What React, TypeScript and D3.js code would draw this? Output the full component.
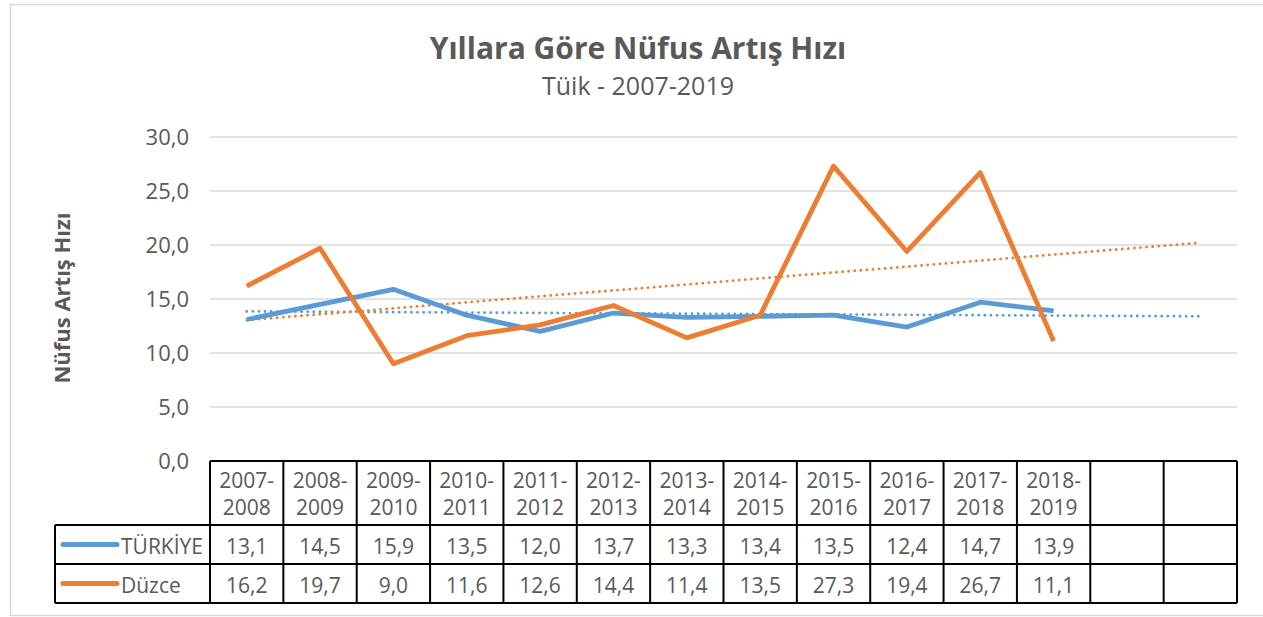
import React from "react";
import { scaleBand, scaleLinear, line, range } from "d3";

const periods = [
  "2007-2008", "2008-2009", "2009-2010", "2010-2011", "2011-2012", "2012-2013",
  "2013-2014", "2014-2015", "2015-2016", "2016-2017", "2017-2018", "2018-2019",
];
const turkiye = [13.1, 14.5, 15.9, 13.5, 12.0, 13.7, 13.3, 13.4, 13.5, 12.4, 14.7, 13.9];
const duzce = [16.2, 19.7, 9.0, 11.6, 12.6, 14.4, 11.4, 13.5, 27.3, 19.4, 26.7, 11.1];
const yTicks = [0, 5, 10, 15, 20, 25, 30];
const forecastSlots = 2;

const series = [
  { name: "TÜRKİYE", values: turkiye, color: "#5B9BD5" },
  { name: "Düzce", values: duzce, color: "#ED7D31" },
];

const W = 1263;
const H = 617;
const left = 210;
const right = 1237;
const top = 137;
const bottom = 461;
const font = "'Open Sans', Lato, sans-serif";
const textColor = "#595959";

// linear trend, Excel style (x = 1..n)
function trend(vals: number[]) {
  const n = vals.length;
  const xs = vals.map((_, i) => i + 1);
  const mx = xs.reduce((a, b) => a + b, 0) / n;
  const my = vals.reduce((a, b) => a + b, 0) / n;
  let sxy = 0;
  let sxx = 0;
  xs.forEach((x, i) => {
    sxy += (x - mx) * (vals[i] - my);
    sxx += (x - mx) * (x - mx);
  });
  const b = sxy / sxx;
  return (x: number) => my + b * (x - mx);
}

export default function App() {
  const slots = range(periods.length + forecastSlots);
  const x = scaleBand<number>().domain(slots).range([left, right]);
  const y = scaleLinear().domain([0, 30]).range([bottom, top]);
  const cx = (i: number) => (x(i) ?? 0) + x.bandwidth() / 2;

  const path = line<number>()
    .x((_, i) => cx(i))
    .y((d) => y(d));

  const headerBottom = 525;
  const rowBottoms = [564, 603];
  const legendLeft = 55;
  const fs = 21;

  return (
    <svg
      width={W}
      height={H}
      style={{ position: "absolute", left: 0, top: 0, background: "#fff" }}
      fontFamily={font}
    >
      <rect x={10.5} y={4.5} width={1270} height={611} fill="#fff" stroke="#D9D9D9" strokeWidth={1.5} />

      <text x={638} y={59} textAnchor="middle" fontSize={30} fontWeight="bold" fill={textColor}>
        Yıllara Göre Nüfus Artış Hızı
      </text>
      <text x={638} y={95} textAnchor="middle" fontSize={25} fill={textColor}>
        Tüik - 2007-2019
      </text>

      <text
        transform={`translate(70,298) rotate(-90)`}
        textAnchor="middle"
        fontSize={22}
        fontWeight="bold"
        fill={textColor}
      >
        Nüfus Artış Hızı
      </text>

      {yTicks.map((t) => (
        <g key={t}>
          {t > 0 && (
            <line x1={left} x2={right} y1={y(t)} y2={y(t)} stroke="#D9D9D9" strokeWidth={1.5} />
          )}
          <text x={189} y={y(t) + 8} textAnchor="end" fontSize={22} fill={textColor}>
            {t.toFixed(1).replace(".", ",")}
          </text>
        </g>
      ))}

      {series.map((s) => {
        const f = trend(s.values);
        return (
          <line
            key={s.name + "-trend"}
            x1={cx(0)}
            x2={cx(slots.length - 1)}
            y1={y(f(1))}
            y2={y(f(slots.length))}
            stroke={s.color}
            strokeWidth={2.8}
            strokeDasharray="0.1 6"
            strokeLinecap="round"
          />
        );
      })}

      {series.map((s) => (
        <path
          key={s.name}
          d={path(s.values) ?? ""}
          fill="none"
          stroke={s.color}
          strokeWidth={4.8}
          strokeLinejoin="round"
        />
      ))}

      <g stroke="#000" strokeWidth={2} fill="none">
        <line x1={left} x2={right} y1={bottom} y2={bottom} />
        <line x1={legendLeft} x2={right} y1={headerBottom} y2={headerBottom} />
        {rowBottoms.map((rb) => (
          <line key={rb} x1={legendLeft} x2={right} y1={rb} y2={rb} />
        ))}
        <line x1={legendLeft} x2={legendLeft} y1={headerBottom} y2={rowBottoms[1]} />
        {slots.map((i) => (
          <line key={i} x1={x(i)} x2={x(i)} y1={bottom} y2={rowBottoms[1]} />
        ))}
        <line x1={right} x2={right} y1={bottom} y2={rowBottoms[1]} />
      </g>

      {periods.map((p, i) => {
        const [a, b] = p.split("-");
        return (
          <g key={p} fontSize={fs} fill={textColor} textAnchor="middle">
            <text x={cx(i)} y={488}>{a + "-"}</text>
            <text x={cx(i)} y={515}>{b}</text>
          </g>
        );
      })}

      {series.map((s, r) => {
        const rowTop = r === 0 ? headerBottom : rowBottoms[0];
        const mid = (rowTop + rowBottoms[r]) / 2;
        return (
          <g key={s.name + "-row"}>
            <line
              x1={legendLeft + 8}
              x2={legendLeft + 62}
              y1={mid}
              y2={mid}
              stroke={s.color}
              strokeWidth={5}
              strokeLinecap="round"
            />
            <text x={legendLeft + 66} y={mid + 9} fontSize={fs} fill={textColor}>
              {s.name}
            </text>
            {s.values.map((v, i) => (
              <text key={i} x={cx(i)} y={mid + 9} textAnchor="middle" fontSize={fs} fill={textColor}>
                {v.toFixed(1).replace(".", ",")}
              </text>
            ))}
          </g>
        );
      })}
    </svg>
  );
}
